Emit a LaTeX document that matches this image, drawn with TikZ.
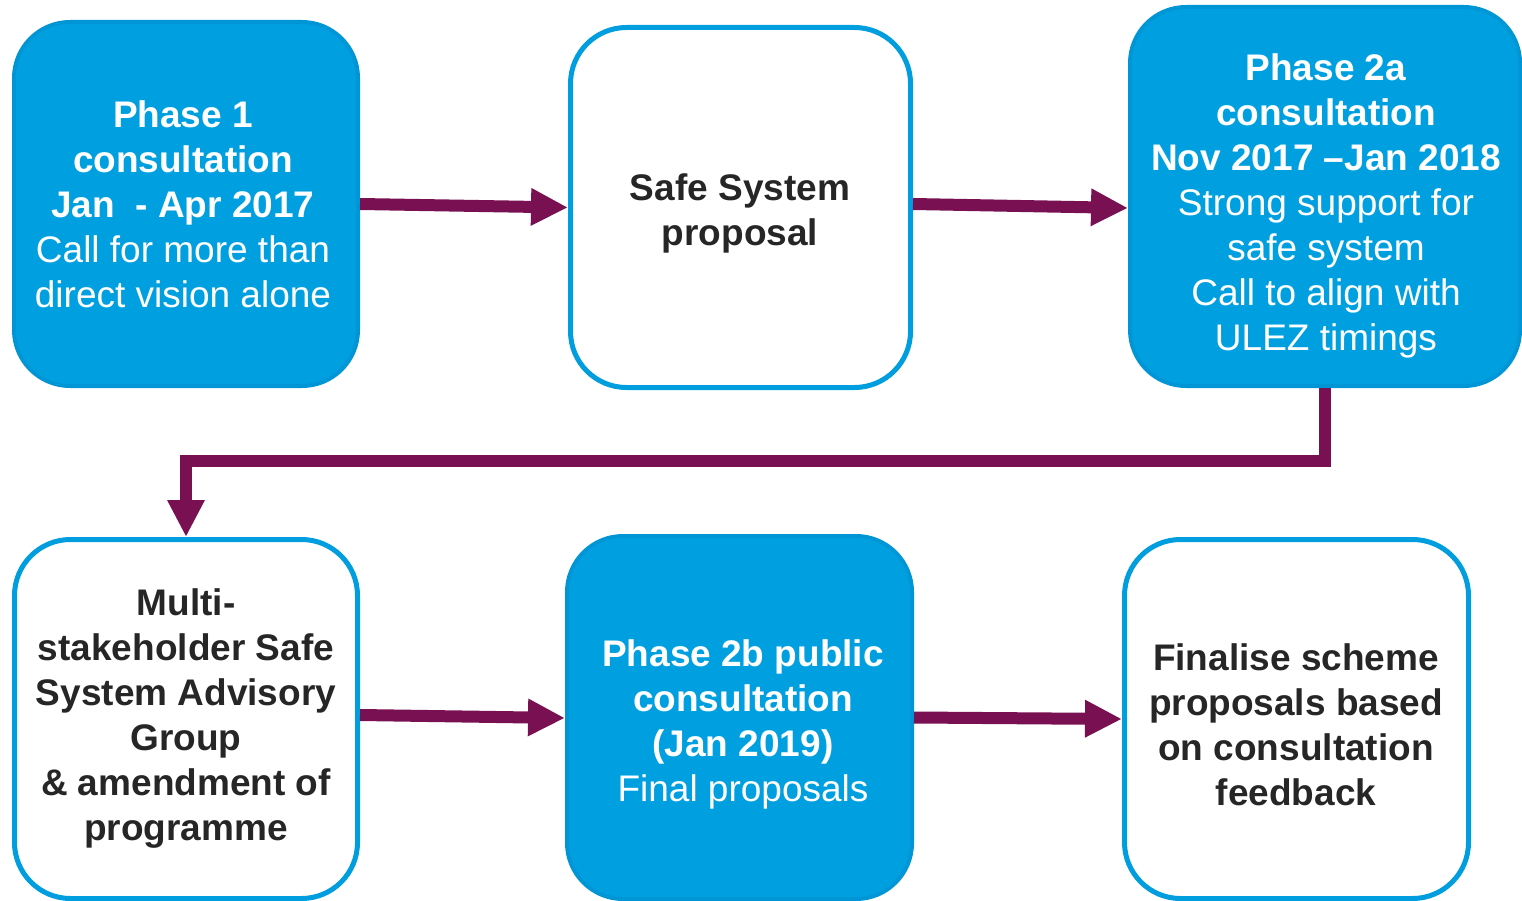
\documentclass[tikz,border=0pt]{standalone}
\usepackage{fontspec}
\setmainfont{Liberation Sans}
\usetikzlibrary{arrows.meta}
\definecolor{tflblue}{RGB}{0,160,224}
\definecolor{tflblueedge}{RGB}{0,150,214}
\definecolor{outlineblue}{RGB}{0,158,222}
\definecolor{arrowpurple}{RGB}{120,16,82}
\definecolor{textdark}{RGB}{38,38,38}
\begin{document}
\begin{tikzpicture}[x=1pt,y=-1pt,
  boxbase/.style={rectangle, rounded corners=56pt, inner sep=0pt},
  filledbox/.style={boxbase, fill=tflblue, draw=tflblueedge, line width=4pt},
  outlinebox/.style={boxbase, fill=white, draw=outlineblue, line width=5pt},
  boxtext/.style={align=center, inner sep=0pt, font=\fontsize{37}{45}\selectfont},
  whitetext/.style={boxtext, text=white},
  darktext/.style={boxtext, text=textdark},
  flowarrow/.style={draw=arrowpurple, line width=12pt,
    -{Triangle[length=37pt,width=35pt]}}
]
\useasboundingbox (0,0) rectangle (1522,901);

\node[filledbox, minimum width=344pt, minimum height=364pt] (b1) at (186,204) {};
\node[whitetext] (b1t) at (183,204)
  {\textbf{Phase 1}\\ \textbf{consultation}\\ \textbf{Jan\ \ - Apr 2017}\\ Call for more than\\ direct vision alone};

\node[outlinebox, minimum width=340pt, minimum height=360pt] (b2) at (740.5,207.5) {};
\node[darktext] (b2t) at (740,213.5)
  {\textbf{Safe System}\\ \textbf{proposal}};

\node[filledbox, minimum width=390pt, minimum height=379pt] (b3) at (1325,196.5) {};
\node[whitetext] (b3t) at (1326,206)
  {\textbf{Phase 2a}\\ \textbf{consultation}\\ \textbf{Nov 2017 –Jan 2018}\\ Strong support for\\ safe system\\ Call to align with\\ ULEZ timings};

\node[outlinebox, minimum width=343pt, minimum height=359pt] (b4) at (186,719) {};
\node[darktext] (b4t) at (186,719)
  {\textbf{Multi-}\\ \textbf{stakeholder Safe}\\ \textbf{System Advisory}\\ \textbf{Group}\\ \textbf{\& amendment of}\\ \textbf{programme}};

\node[filledbox, minimum width=345pt, minimum height=363pt] (b5) at (739.5,717.5) {};
\node[whitetext] (b5t) at (743,724.5)
  {\textbf{Phase 2b public}\\ \textbf{consultation}\\ \textbf{(Jan 2019)}\\ Final proposals};

\node[outlinebox, minimum width=344pt, minimum height=359pt] (b6) at (1296.5,719) {};
\node[darktext] (b6t) at (1296,725)
  {\textbf{Finalise scheme}\\ \textbf{proposals based}\\ \textbf{on consultation}\\ \textbf{feedback}};

\coordinate (bend) at (186,461);

\draw[flowarrow] (b1.east) -- (b2.west);
\draw[flowarrow] ([yshift=3.5pt]b2.east) -- ([yshift=-11.5pt]b3.west);
\draw[flowarrow] (b3.south) |- (bend) -- (b4.north);
\draw[flowarrow] ([yshift=4pt]b4.east) -- ([yshift=-0.5pt]b5.west);
\draw[flowarrow] (b5.east) -- (b6.west);
\end{tikzpicture}
\end{document}
